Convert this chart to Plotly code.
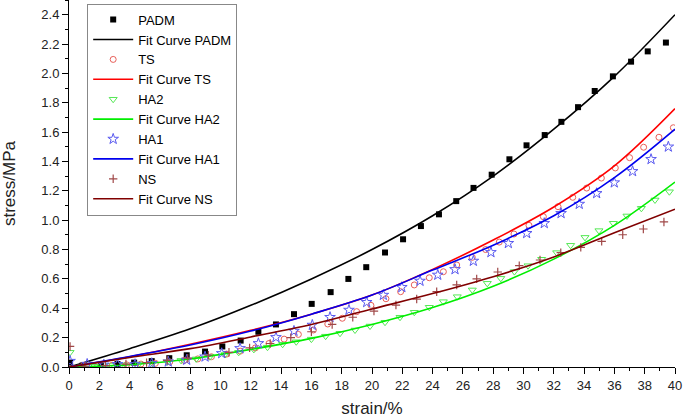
import plotly.graph_objects as go

# ---------------- data ----------------
padm_x = [0.07, 0.9, 2.1, 3.2, 4.3, 5.46, 6.62, 7.77, 8.98, 10.12, 11.33, 12.5, 13.66, 14.85,
          16.02, 17.27, 18.44, 19.62, 20.86, 22.05, 23.23, 24.42, 25.56, 26.7, 27.9, 29.07,
          30.2, 31.4, 32.5, 33.6, 34.7, 35.9, 37.1, 38.2, 39.4]
padm_y = [0.03, 0.01, 0.01, 0.02, 0.03, 0.04, 0.06, 0.08, 0.105, 0.14, 0.18, 0.24, 0.29, 0.36,
          0.43, 0.51, 0.60, 0.68, 0.78, 0.87, 0.96, 1.04, 1.13, 1.22, 1.31, 1.415,
          1.51, 1.58, 1.67, 1.77, 1.88, 1.98, 2.08, 2.15, 2.21]

ts_x = [0.95, 1.9, 2.85, 3.8, 4.75, 5.7, 6.65, 7.6, 8.5, 9.4, 10.4, 11.3, 12.3, 13.2, 14.2,
        15.14, 16.13, 17.08, 18.04, 18.99, 19.93, 20.92, 21.89, 22.79, 23.78, 24.71, 25.59,
        26.62, 27.5, 28.4, 29.37, 30.36, 31.31, 32.28, 33.25, 34.17, 35.14, 36.06, 37.0,
        37.93, 38.94, 39.89]
ts_y = [0.01, 0.01, 0.012, 0.015, 0.02, 0.025, 0.035, 0.045, 0.055, 0.07, 0.088, 0.108, 0.13,
        0.16, 0.19, 0.222, 0.252, 0.293, 0.332, 0.377, 0.42, 0.465, 0.513, 0.559, 0.608, 0.649,
        0.695, 0.747, 0.80, 0.851, 0.906, 0.965, 1.024, 1.092, 1.156, 1.219, 1.287, 1.356,
        1.426, 1.497, 1.565, 1.63]

ha2_x = [0.07, 0.8, 1.7, 2.7, 3.6, 4.6, 5.5, 6.5, 7.4, 8.4, 9.3, 10.3, 11.2, 12.2, 13.1, 14.1,
         15.0, 16.0, 16.94, 17.89, 18.88, 19.87, 20.86, 21.85, 22.79, 23.78, 24.71, 25.63,
         26.62, 27.61, 28.5, 29.4, 30.3, 31.2, 32.19, 33.11, 34.06, 34.98, 35.93, 36.83,
         37.78, 38.68, 39.63]
ha2_y = [0.10, 0.0, 0.005, 0.01, 0.015, 0.02, 0.025, 0.035, 0.045, 0.055, 0.07, 0.085, 0.1,
         0.12, 0.135, 0.155, 0.172, 0.19, 0.21, 0.23, 0.252, 0.279, 0.305, 0.339, 0.373,
         0.407, 0.445, 0.479, 0.525, 0.570, 0.604, 0.65, 0.69, 0.734, 0.779, 0.829, 0.883,
         0.929, 0.979, 1.029, 1.081, 1.138, 1.194]

ha1_x = [0.07, 1.2, 2.3, 3.2, 4.36, 5.46, 6.55, 7.77, 8.98, 10.08, 11.29, 12.5, 13.66, 14.85,
         16.06, 17.23, 18.48, 19.65, 20.75, 21.97, 23.17, 24.34, 25.48, 26.69, 27.85, 29.0,
         30.21, 31.37, 32.48, 33.68, 34.83, 35.99, 37.2, 38.42, 39.56]
ha1_y = [0.04, 0.02, 0.015, 0.018, 0.018, 0.025, 0.036, 0.048, 0.07, 0.093, 0.127, 0.161,
         0.202, 0.245, 0.286, 0.339, 0.388, 0.441, 0.49, 0.543, 0.586, 0.627, 0.665, 0.722,
         0.781, 0.843, 0.911, 0.979, 1.047, 1.11, 1.183, 1.256, 1.333, 1.415, 1.50]

ns_x = [0.07, 1.04, 2.4, 3.76, 5.12, 6.48, 7.84, 9.2, 10.56, 11.92, 13.28, 14.64, 16.0, 17.37,
        18.73, 20.13, 21.58, 22.95, 24.27, 25.59, 26.91, 28.3, 29.72, 31.09, 32.46, 33.78,
        35.16, 36.55, 37.91, 39.27]
ns_y = [0.14, 0.005, 0.01, 0.02, 0.03, 0.045, 0.06, 0.08, 0.1, 0.13, 0.16, 0.2, 0.24, 0.29,
        0.339, 0.381, 0.422, 0.463, 0.513, 0.559, 0.60, 0.647, 0.69, 0.729, 0.779, 0.815,
        0.856, 0.901, 0.94, 0.988]

fit_x = [0, 4, 8, 12, 16, 20, 24, 28, 32, 36, 40]
fit_padm = [0, 0.125, 0.26, 0.42, 0.60, 0.80, 1.03, 1.30, 1.62, 1.98, 2.40]
fit_ts = [0, 0.07, 0.155, 0.25, 0.36, 0.49, 0.665, 0.865, 1.09, 1.37, 1.76]
fit_ha2 = [0, 0.015, 0.055, 0.12, 0.195, 0.29, 0.405, 0.55, 0.735, 0.965, 1.26]
fit_ha1 = [0, 0.072, 0.15, 0.245, 0.36, 0.49, 0.66, 0.83, 1.03, 1.29, 1.62]
fit_ns = [0, 0.065, 0.125, 0.205, 0.29, 0.395, 0.50, 0.615, 0.75, 0.915, 1.075]

x_ticks = list(range(0, 41, 2))
y_ticks = [0.0, 0.2, 0.4, 0.6, 0.8, 1.0, 1.2, 1.4, 1.6, 1.8, 2.0, 2.2, 2.4]

# ---------------- figure ----------------
FONT = "Liberation Sans, Arial, sans-serif"
fig = go.Figure()

def pts(name, x, y, symbol, color, size, lw=1):
    fig.add_trace(go.Scatter(
        x=x, y=y, mode="markers", name=name,
        marker=dict(symbol=symbol, size=size, color=color,
                    line=dict(color=color, width=lw))))

def fit(name, y, color):
    fig.add_trace(go.Scatter(
        x=fit_x, y=y, mode="lines", name=name,
        line=dict(color=color, width=1.6, shape="spline")))

pts("PADM", padm_x, padm_y, "square", "black", 6, 0)
fit("Fit Curve PADM", fit_padm, "black")
pts("TS", ts_x, ts_y, "circle-open", "#e8605a", 6, 1)
fit("Fit Curve TS", fit_ts, "#ff0000")
pts("HA2", ha2_x, ha2_y, "triangle-down-open", "#55e855", 7, 1)
fit("Fit Curve HA2", fit_ha2, "#00ee00")
pts("HA1", ha1_x, ha1_y, "star-open", "#5a5af0", 8, 1)
fit("Fit Curve HA1", fit_ha1, "#0000ee")
pts("NS", ns_x, ns_y, "cross-thin-open", "#a04848", 6, 1.2)
fit("Fit Curve NS", fit_ns, "#800000")

axis_common = dict(
    showline=True, linecolor="black", linewidth=1, mirror=False,
    showgrid=False, zeroline=False,
    ticks="outside", ticklen=6, tickwidth=1, tickcolor="black",
    tickfont=dict(family=FONT, size=13, color="#222222"),
)

fig.update_layout(
    width=685, height=418,
    margin=dict(l=69, r=10, t=0, b=51),
    paper_bgcolor="white", plot_bgcolor="white",
    font=dict(family=FONT, color="#222222"),
    xaxis=dict(
        range=[0, 40], tickvals=x_ticks,
        minor=dict(dtick=1, ticklen=3, ticks="outside", tickcolor="black"),
        title=dict(text="strain/%", font=dict(family=FONT, size=17, color="#222222"),
                   standoff=11),
        **axis_common),
    yaxis=dict(
        range=[0, 2.5], tickvals=y_ticks, tickformat=".1f",
        minor=dict(dtick=0.1, ticklen=3, ticks="outside", tickcolor="black"),
        title=dict(text="stress/MPa", font=dict(family=FONT, size=17, color="#222222"),
                   standoff=21),
        **axis_common),
    legend=dict(
        x=0.03, y=0.99, xanchor="left", yanchor="top",
        bordercolor="#888888", borderwidth=1, bgcolor="white",
        font=dict(family=FONT, size=13, color="black"),
        itemwidth=40, tracegroupgap=0,
    ),
    showlegend=True,
)

fig.write_html(
    "out.html",
    config={"displayModeBar": False},
    post_script="document.body.style.margin='0';document.body.style.overflow='hidden';",
)
